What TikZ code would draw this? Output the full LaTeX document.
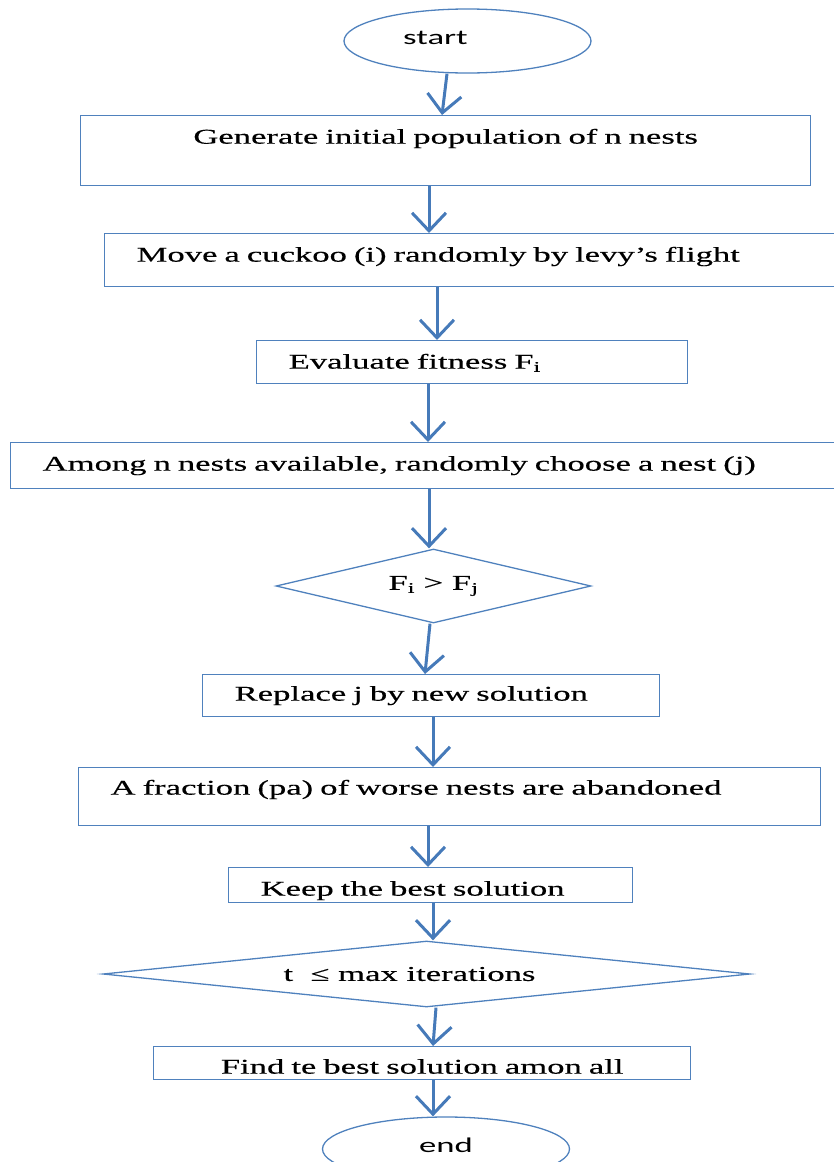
\documentclass[tikz,border=0pt]{standalone}
\usepackage{fontspec}
\newfontfamily\flowfont[FakeStretch=1.65,FakeBold=0.4]{Liberation Serif}
\newfontfamily\termfont[FakeStretch=1.65]{Carlito}
\usepackage{tikz}
\usetikzlibrary{shapes.geometric}
\usetikzlibrary{arrows.meta}
\definecolor{boxblue}{RGB}{79,129,189}
\definecolor{flowblue}{RGB}{70,122,185}
\tikzstyle{proc}=[draw=boxblue, line width=1.3pt, rectangle, inner xsep=32pt, inner ysep=0pt, align=left, anchor=north west, font={\fontsize{21}{25}\flowfont}]
\tikzstyle{decide}=[draw=boxblue, line width=1.3pt, diamond, inner sep=0pt, font={\fontsize{21}{25}\flowfont}]
\tikzstyle{term}=[draw=boxblue, line width=1.3pt, ellipse, inner sep=0pt, minimum width=247pt, minimum height=64pt, text height=15pt, text depth=9pt, font={\fontsize{21}{25}\termfont}]
\tikzstyle{flow}=[draw=flowblue, line width=3pt, -{Straight Barb[length=18pt,width=34pt]}]

\begin{document}
\begin{tikzpicture}[x=1pt, y=-1pt]
\useasboundingbox (0,0) rectangle (833,1162);
\node[term] (start) at (467.5,41){start\hspace{64pt}\null};
\node[proc, text width=666pt, align=center, text height=28pt, text depth=42pt] (init) at (80,115){Generate initial population of n nests};
\node[proc, text width=676pt, text height=28pt, text depth=25pt] (move) at (104,233){Move a cuckoo (i) randomly by levy’s flight};
\node[proc, text width=367pt, text height=28pt, text depth=15pt] (eval) at (256,340){Evaluate fitness F\textsubscript{i}};
\node[proc, text width=776pt, text height=28pt, text depth=18pt] (among) at (10,442){Among n nests available, randomly choose a nest (j)};
\node[decide, aspect=4.26, minimum width=315pt, minimum height=74pt] (dec1) at (433.5,586){F\textsubscript{i} > F\textsubscript{j}};
\node[proc, text width=393pt, text height=26pt, text depth=16pt] (replace) at (202,674){Replace j by new solution};
\node[proc, text width=678pt, text height=27pt, text depth=31pt] (abandon) at (78,767){A fraction (pa) of worse nests are abandoned};
\node[proc, text width=340pt, text height=28pt, text depth=7pt] (keep) at (228,867){Keep the best solution};
\node[decide, aspect=9.8, minimum width=647pt, minimum height=66pt] (dec2) at (426.5,974){t~ ≤ max iterations\hspace{34pt}\null};
\node[proc, text width=473pt, align=center, text height=27pt, text depth=6pt] (best) at (153,1046){Find te best solution amon all};
\node[term] (stop) at (446,1149){end};
\draw[flow](447,0 |- start.south) -- (442,0 |- init.north);
\draw[flow](429,0 |- init.south) -- (429,0 |- move.north);
\draw[flow](437,0 |- move.south) -- (437,0 |- eval.north);
\draw[flow](428,0 |- eval.south) -- (428,0 |- among.north);
\draw[flow](429,0 |- among.south) -- (429,0 |- dec1.north);
\draw[flow](430,0 |- dec1.south) -- (425,0 |- replace.north);
\draw[flow](433,0 |- replace.south) -- (433,0 |- abandon.north);
\draw[flow](428,0 |- abandon.south) -- (428,0 |- keep.north);
\draw[flow](433,0 |- keep.south) -- (433,0 |- dec2.north);
\draw[flow](436,0 |- dec2.south) -- (433,0 |- best.north);
\draw[flow](433,0 |- best.south) -- (433,0 |- stop.north);
\end{tikzpicture}
\end{document}
